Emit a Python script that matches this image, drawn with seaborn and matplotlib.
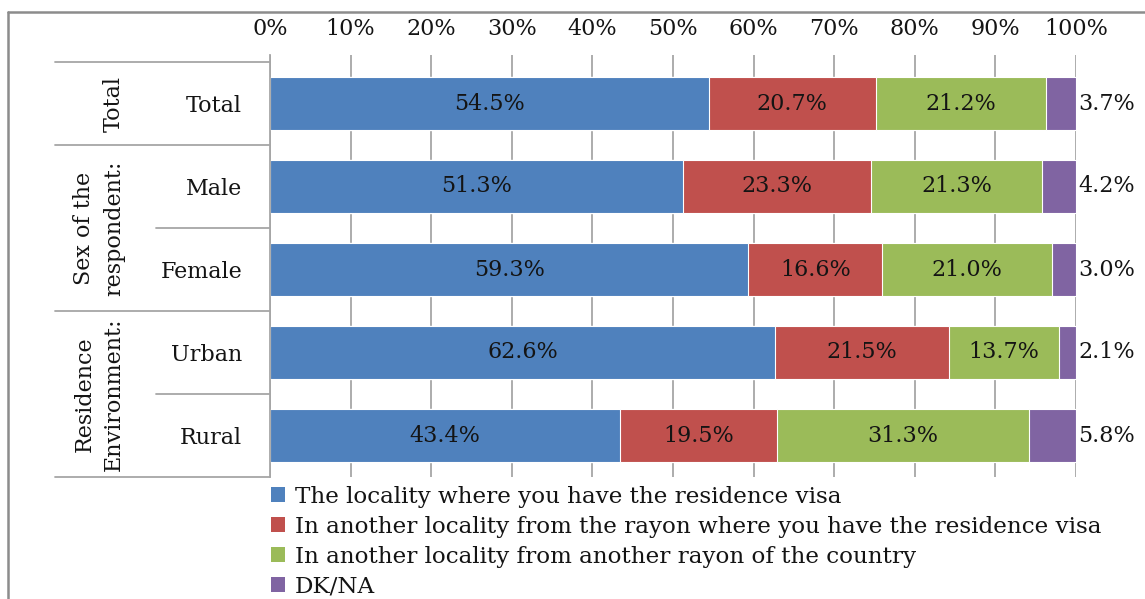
import matplotlib
matplotlib.use("Agg")
import numpy as np
import pandas as pd
import matplotlib.pyplot as plt
import seaborn as sns
from matplotlib.patches import Patch
from matplotlib.lines import Line2D

# Data
categories = ["Total", "Male", "Female", "Urban", "Rural"]
groups = ["Total", "Sex of the\nrespondent:", "Residence\nEnvironment:"]
group_rows = [[0], [1, 2], [3, 4]]
series_names = [
    "The locality where you have the residence visa",
    "In another locality from the rayon where you have the residence visa",
    "In another locality from another rayon of the country",
    "DK/NA",
]
same_locality = [54.5, 51.3, 59.3, 62.6, 43.4]
same_rayon = [20.7, 23.3, 16.6, 21.5, 19.5]
other_rayon = [21.2, 21.3, 21.0, 13.7, 31.3]
dk_na = [3.7, 4.2, 3.0, 2.1, 5.8]
tick_labels = ["0%", "10%", "20%", "30%", "40%", "50%", "60%", "70%", "80%", "90%", "100%"]
colors = ["#4F81BD", "#C0504D", "#9BBB59", "#8064A2"]

df = pd.DataFrame({
    series_names[0]: same_locality,
    series_names[1]: same_rayon,
    series_names[2]: other_rayon,
    series_names[3]: dk_na,
}, index=categories)

# 100% stacked -> normalise each row
share = df.div(df.sum(axis=1), axis=0)
cum = share.cumsum(axis=1)

sns.set_style("white")
plt.rcParams["font.family"] = ["DejaVu Serif"]
plt.rcParams["text.color"] = "#141414"

W, H = 1145, 599
fig = plt.figure(figsize=(W / 100, H / 100), dpi=100)
ax = fig.add_axes([270 / W, 1 - 477 / H, 806 / W, (477 - 55) / H])

# draw from the outermost cumulative segment inwards
for i in reversed(range(len(series_names))):
    sns.barplot(x=cum.iloc[:, i].values, y=categories, orient="h", color=colors[i],
                saturation=1, width=0.65, edgecolor="#ffffff", linewidth=0.8, ax=ax)

ax.set_xlim(0, 1)
ax.set_ylim(4.5, -0.5 - 7 / 83)
ax.set_xlabel("")
ax.set_ylabel("")

ax.set_xticks(np.linspace(0, 1, 11))
ax.set_xticklabels(tick_labels)
ax.xaxis.tick_top()
ax.tick_params(axis="x", length=0, pad=11, labelsize=16, labelcolor="#141414")
ax.tick_params(axis="y", length=0, pad=20, labelsize=16, labelcolor="#141414")
ax.grid(axis="x", color="#a6a6a6", linewidth=1.3)
ax.set_axisbelow(True)
for s in ["top", "right", "bottom"]:
    ax.spines[s].set_visible(False)
ax.spines["left"].set_color("#a6a6a6")
ax.spines["left"].set_linewidth(1.3)

# value labels
for r, cat in enumerate(categories):
    for i in range(3):
        left = cum.iloc[r, i] - share.iloc[r, i]
        ax.text(left + share.iloc[r, i] / 2, r, f"{df.iloc[r, i]:.1f}%",
                ha="center", va="center", fontsize=16)
    ax.text(1.003, r, f"{df.iloc[r, 3]:.1f}%", ha="left", va="center", fontsize=16)

# left table: group separators and rotated group labels
trans = ax.get_yaxis_transform()
x_outer = (55 - 270) / 806
x_inner = (156 - 270) / 806
line_kw = dict(color="#a6a6a6", linewidth=1.3, transform=trans, clip_on=False)
ax.add_line(Line2D([x_outer, 0], [-0.5, -0.5], **line_kw))
for name, rows in zip(groups, group_rows):
    bottom = rows[-1] + 0.5
    ax.add_line(Line2D([x_outer, 0], [bottom, bottom], **line_kw))
    for r in rows[:-1]:
        ax.add_line(Line2D([x_inner, 0], [r + 0.5, r + 0.5], **line_kw))
    ax.text((125 - 270) / 806, np.mean(rows), name, rotation=90, ha="right", va="center",
            multialignment="center", linespacing=1.45, fontsize=16, transform=trans)

# outer chart frame (top and left edges visible)
frame_kw = dict(color="#8c8c8c", linewidth=1.8, transform=fig.transFigure)
fig.add_artist(Line2D([8 / W, 1], [1 - 12 / H, 1 - 12 / H], **frame_kw))
fig.add_artist(Line2D([8 / W, 8 / W], [0, 1 - 12 / H], **frame_kw))

handles = [Patch(facecolor=c, edgecolor="none") for c in colors]
fig.legend(handles, series_names, loc="upper left", bbox_to_anchor=(271 / W, 1 - 486 / H),
           frameon=False, fontsize=16.6, handlelength=0.62, handleheight=0.62,
           handletextpad=0.4, labelspacing=0.345, borderpad=0, borderaxespad=0)

fig.savefig("out.png", dpi=100)
